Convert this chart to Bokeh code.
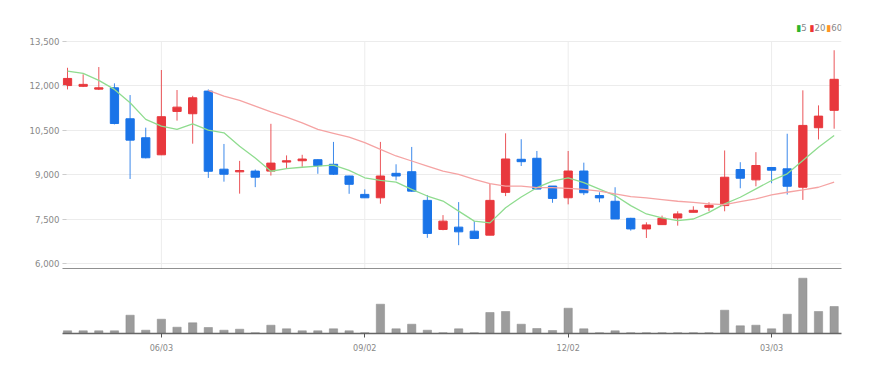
from bokeh.plotting import figure
from bokeh.layouts import column
from bokeh.models import ColumnDataSource, FixedTicker, NumeralTickFormatter, Range1d, Label
from bokeh.embed import file_html
from bokeh.resources import INLINE

nan = float("nan")

open_ = [12000, 11975, 11880, 11925, 10880, 10240, 9665, 11128, 11050, 11814,
         9180, 9090, 9115, 9115, 9420, 9465, 9500, 9345, 8950, 8330,
         8215, 9040, 9095, 8128, 7148, 7226, 7090, 6955, 8398, 9514,
         9548, 8611, 8216, 9118, 8290, 8098, 7523, 7165, 7310, 7536,
         7726, 7895, 7952, 9169, 8820, 9237, 9192, 8571, 10578, 11164]
close = [12240, 12040, 11925, 10720, 10160, 9565, 10950, 11273, 11588, 9110,
         9010, 9135, 8910, 9385, 9465, 9522, 9300, 9010, 8670, 8215,
         8950, 8950, 8440, 7013, 7428, 7067, 6843, 8128, 9524, 9433,
         8510, 8195, 9118, 8385, 8212, 7502, 7165, 7300, 7523, 7672,
         7793, 7962, 8909, 8875, 9304, 9146, 8605, 10656, 10970, 12211]
high = [12600, 12380, 12625, 12075, 11680, 10580, 12525, 11850, 11655, 11870,
        10030, 9460, 9170, 10710, 9645, 9665, 9510, 10100, 8960, 8500,
        10100, 9345, 9930, 8307, 7631, 8070, 7428, 8690, 10390, 10190,
        9794, 8611, 9794, 9400, 8402, 8571, 7540, 7388, 7614, 7760,
        7929, 8064, 9811, 9416, 9754, 9237, 10375, 11839, 11332, 13191]
low = [11870, 11950, 11850, 10690, 8850, 9545, 9655, 10817, 10040, 8885,
       8760, 8355, 8575, 8965, 9205, 9260, 9025, 8985, 8350, 8215,
       8015, 8805, 8420, 6865, 7120, 6617, 6830, 6955, 8273, 9287,
       8510, 8047, 7994, 8307, 8064, 7502, 7107, 6860, 7310, 7276,
       7726, 7760, 7760, 8537, 8604, 8706, 8324, 8145, 10183, 10545]
volume = [27, 27, 27, 27, 183, 33, 143, 63, 107, 60,
          33, 43, 8, 83, 47, 27, 27, 47, 27, 8,
          293, 47, 93, 33, 8, 47, 8, 210, 220, 93,
          50, 30, 253, 47, 8, 27, 8, 8, 8, 8,
          8, 8, 233, 77, 83, 47, 193, 553, 220, 270]
ma5 = [12490, 12410, 12175, 11870, 11420, 10860, 10630, 10520, 10710, 10495,
       10405, 9955, 9560, 9110, 9200, 9245, 9280, 9320, 9140, 8890,
       8800, 8745, 8500, 8275, 8105, 7765, 7430, 7370, 7880, 8240,
       8555, 8780, 8890, 8725, 8510, 8290, 7952, 7670, 7535, 7445,
       7500, 7725, 8010, 8233, 8517, 8797, 9023, 9473, 9923, 10318]
ma20 = [nan, nan, nan, nan, nan, nan, nan, nan, nan, 11840,
        11645, 11500, 11307, 11115, 10935, 10743, 10520, 10390, 10260, 10075,
        9850, 9625, 9456, 9287, 9118, 9005, 8837, 8690, 8612, 8612,
        8555, 8555, 8533, 8500, 8440, 8347, 8256, 8212, 8155, 8098,
        8064, 8010, 7986, 8087, 8178, 8314, 8402, 8483, 8571, 8740]

price_ticks = [6000, 7500, 9000, 10500, 12000, 13500]
tick_idx = [6, 19, 32, 45]
tick_labels = ["06/03", "09/02", "12/02", "03/03"]
legend_labels = ["5", "20", "60"]
legend_colors = ["#2cb52c", "#ee3535", "#ff9526"]

UP = "#e8383d"
DOWN = "#1a74e8"
FONT = "Liberation Sans Narrow, DejaVu Sans Condensed, Liberation Sans, sans-serif"

n = len(close)
xs = list(range(n))
src = ColumnDataSource(dict(
    x=xs, open=open_, close=close, high=high, low=low,
    top=[max(o, c) for o, c in zip(open_, close)],
    bottom=[min(o, c) for o, c in zip(open_, close)],
    color=[UP if c >= o else DOWN for o, c in zip(open_, close)],
    volume=volume, ma5=ma5, ma20=ma20,
))

xr = Range1d(-0.32, 49.47)
yr = Range1d(5797, 14363)

p1 = figure(width=870, height=269, x_range=xr, y_range=yr,
            output_backend="svg", toolbar_location=None,
            min_border_left=62, min_border_right=29, min_border_top=15, min_border_bottom=0)
p1.outline_line_color = None
p1.background_fill_color = "white"
p1.border_fill_color = "white"

# vertical grid lines at the date ticks, spanning the price area only
p1.segment(x0=tick_idx, x1=tick_idx, y0=[yr.start] * len(tick_idx),
           y1=[max(price_ticks)] * len(tick_idx), line_color="#ececec", line_width=1)

p1.segment(x0="x", y0="low", x1="x", y1="high", line_color="color", line_width=1, line_alpha=0.85, source=src)
p1.vbar(x="x", width=0.53, top="top", bottom="bottom", fill_color="color", line_color="color", source=src)
p1.line("x", "ma5", source=src, line_color="#8fdc8f", line_width=1.3)
p1.line("x", "ma20", source=src, line_color="#f5a3a3", line_width=1.3)

p1.yaxis.ticker = FixedTicker(ticks=price_ticks)
p1.yaxis.formatter = NumeralTickFormatter(format="0,0")
p1.yaxis.axis_line_color = None
p1.yaxis.major_tick_in = 4
p1.yaxis.major_tick_out = 0
p1.yaxis.major_tick_line_color = "#cccccc"
p1.yaxis.minor_tick_line_color = None
p1.yaxis.major_label_standoff = 3
p1.yaxis.major_label_text_font = FONT
p1.yaxis.major_label_text_font_size = "9.5px"
p1.yaxis.major_label_text_color = "#888888"

p1.xaxis.ticker = FixedTicker(ticks=[])
p1.xaxis.major_tick_out = 0
p1.xaxis.major_tick_in = 0
p1.xaxis.major_label_standoff = 0
p1.xaxis.minor_tick_line_color = None
p1.xaxis.axis_line_color = "#222222"
p1.xaxis.axis_line_width = 2

p1.xgrid.visible = False
p1.ygrid.grid_line_color = "#ececec"

# legend (top right)
leg_x = [733.7, 747.0, 763.7]
for txt, col, lx in zip(legend_labels, legend_colors, leg_x):
    p1.add_layout(Label(x=lx, y=242, x_units="screen", y_units="screen", text="\u25ae",
                        text_color=col, text_font_size="9px", text_baseline="middle",
                        text_font="DejaVu Sans"))
    p1.add_layout(Label(x=lx + 5, y=242, x_units="screen", y_units="screen", text=txt,
                        text_color="#888888", text_font_size="9.5px", text_baseline="middle",
                        text_font=FONT))

p2 = figure(width=870, height=86, x_range=xr, y_range=Range1d(0, 620),
            output_backend="svg", toolbar_location=None,
            min_border_left=62, min_border_right=29, min_border_top=2, min_border_bottom=0)
p2.outline_line_color = None
p2.vbar(x="x", width=0.53, top="volume", bottom=0, fill_color="#9c9c9c", line_color="#8a8a8a",
        line_width=0.5, source=src)
p2.yaxis.visible = False
p2.grid.grid_line_color = None
p2.xaxis.ticker = FixedTicker(ticks=tick_idx)
p2.xaxis.major_label_overrides = {i: t for i, t in zip(tick_idx, tick_labels)}
p2.xaxis.axis_line_color = "#666666"
p2.xaxis.axis_line_width = 1.5
p2.xaxis.major_tick_out = 4
p2.xaxis.major_tick_in = 0
p2.xaxis.major_tick_line_color = "#555555"
p2.xaxis.minor_tick_line_color = None
p2.xaxis.major_label_standoff = 5
p2.xaxis.major_label_text_font = FONT
p2.xaxis.major_label_text_font_size = "9px"
p2.xaxis.major_label_text_color = "#888888"

layout = column(p1, p2, spacing=0)
open("out.html", "w").write(file_html(layout, INLINE))
